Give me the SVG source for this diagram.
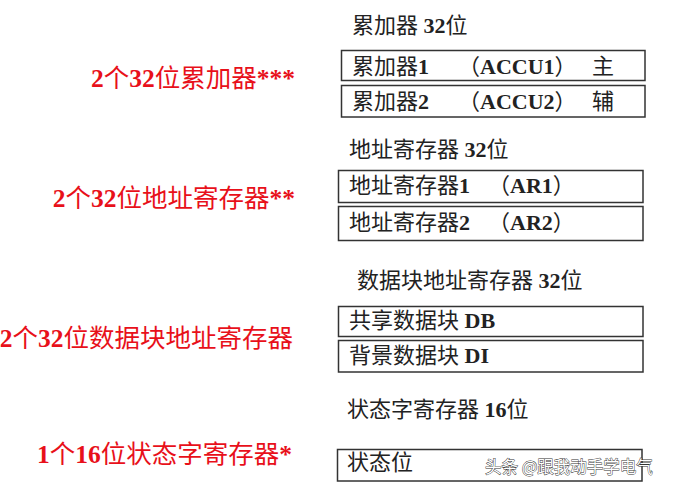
<svg xmlns="http://www.w3.org/2000/svg" width="674" height="490" viewBox="0 0 674 490">
<style>
.t{font-family:"Liberation Serif","Noto Sans CJK SC",serif;font-size:22px;fill:#222}
.b{font-weight:bold}
.r{font-family:"Liberation Serif","Noto Sans CJK SC",serif;font-size:25.5px;fill:#e8101a;text-anchor:end}
.box{fill:#fff;stroke:#333;stroke-width:1.5}
.wm{font-family:"Noto Sans CJK SC",sans-serif;font-size:16.5px;fill:#fff;stroke:#333;stroke-width:0.9;paint-order:stroke}
</style>
<rect width="674" height="490" fill="#fff"/>

<g id="left-labels">
<text class="r" x="295" y="87"><tspan class="b">2</tspan>个<tspan class="b">32</tspan>位累加器<tspan class="b">***</tspan></text>
<text class="r" x="295" y="207"><tspan class="b">2</tspan>个<tspan class="b">32</tspan>位地址寄存器<tspan class="b">**</tspan></text>
<text class="r" x="293" y="347"><tspan class="b">2</tspan>个<tspan class="b">32</tspan>位数据块地址寄存器</text>
<text class="r" x="292" y="463"><tspan class="b">1</tspan>个<tspan class="b">16</tspan>位状态字寄存器<tspan class="b">*</tspan></text>
</g>

<g id="accu">
<text class="t" x="352" y="33">累加器 <tspan class="b">32</tspan>位</text>
<g id="accu1">
<rect class="box" x="341.5" y="50.5" width="303.5" height="30"/>
<text class="t" x="352" y="74">累加器<tspan class="b">1</tspan><tspan x="458">（</tspan><tspan class="b">ACCU1</tspan>）<tspan x="592">主</tspan></text>
</g>
<g id="accu2">
<rect class="box" x="341.5" y="85.5" width="303.5" height="31.5"/>
<text class="t" x="352" y="109">累加器<tspan class="b">2</tspan><tspan x="458">（</tspan><tspan class="b">ACCU2</tspan>）<tspan x="592">辅</tspan></text>
</g>
</g>

<g id="ar">
<text class="t" x="349" y="157">地址寄存器 <tspan class="b">32</tspan>位</text>
<g id="ar1">
<rect class="box" x="338.5" y="170.5" width="304.5" height="32"/>
<text class="t" x="349" y="193">地址寄存器<tspan class="b">1</tspan><tspan x="488">（</tspan><tspan class="b">AR1</tspan>）</text>
</g>
<g id="ar2">
<rect class="box" x="338.5" y="206.5" width="304.5" height="34"/>
<text class="t" x="349" y="230">地址寄存器<tspan class="b">2</tspan><tspan x="488">（</tspan><tspan class="b">AR2</tspan>）</text>
</g>
</g>

<g id="db">
<text class="t" x="357" y="288">数据块地址寄存器 <tspan class="b">32</tspan>位</text>
<g id="db1">
<rect class="box" x="338.5" y="306.5" width="304.5" height="30"/>
<text class="t" x="349" y="328">共享数据块 <tspan class="b">DB</tspan></text>
</g>
<g id="di">
<rect class="box" x="338.5" y="340.5" width="304.5" height="31.5"/>
<text class="t" x="349" y="363">背景数据块 <tspan class="b">DI</tspan></text>
</g>
</g>

<g id="sw">
<text class="t" x="347" y="417">状态字寄存器 <tspan class="b">16</tspan>位</text>
<g id="sw1">
<rect class="box" x="337.5" y="449.5" width="304.5" height="31.5"/>
<text class="t" x="347" y="470">状态位</text>
</g>
</g>

<text class="wm" x="485" y="473">头条 @跟我动手学电气</text>
</svg>
